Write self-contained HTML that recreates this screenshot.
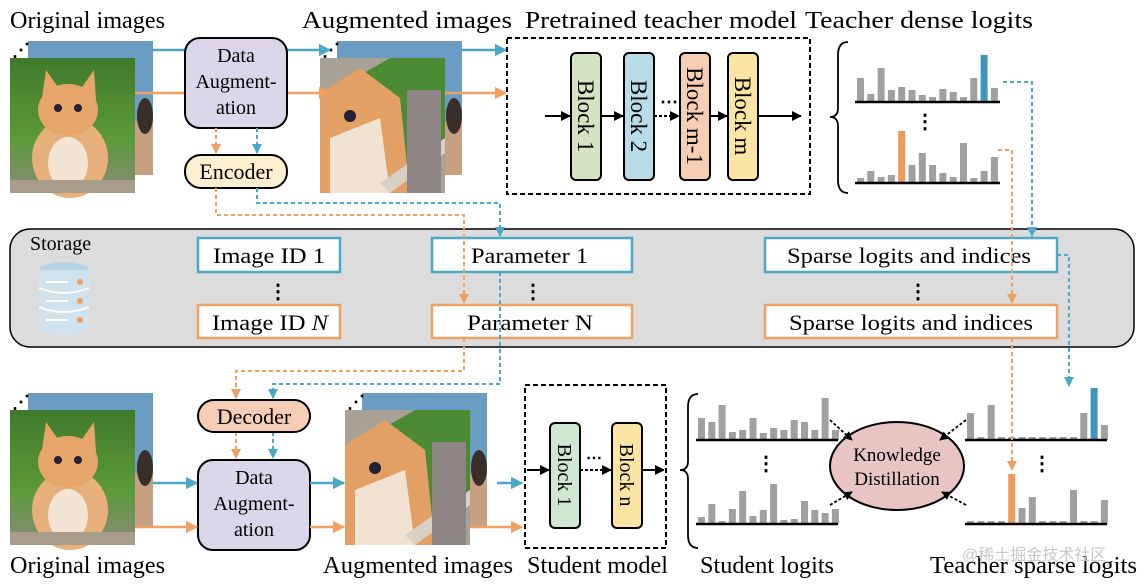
<!DOCTYPE html>
<html><head><meta charset="utf-8"><style>
html,body{margin:0;padding:0;background:#fff;}
svg{display:block;font-family:"Liberation Serif",serif;}
</style></head><body>
<svg width="1144" height="584" viewBox="0 0 1144 584" xmlns="http://www.w3.org/2000/svg">
<defs>
<marker id="ab" viewBox="0 0 10 10" refX="9" refY="5" markerWidth="5" markerHeight="5" orient="auto"><path d="M0,0L10,5L0,10z" fill="#4aa8c8"/></marker>
<marker id="ao" viewBox="0 0 10 10" refX="9" refY="5" markerWidth="5" markerHeight="5" orient="auto"><path d="M0,0L10,5L0,10z" fill="#f0a060"/></marker>
<marker id="ak" viewBox="0 0 10 10" refX="9" refY="5" markerWidth="5" markerHeight="5" orient="auto"><path d="M0,0L10,5L0,10z" fill="#000"/></marker>
<linearGradient id="grass" x1="0" y1="0" x2="0" y2="1"><stop offset="0" stop-color="#3f7a2a"/><stop offset="0.6" stop-color="#5c9a3a"/><stop offset="1" stop-color="#8a8a78"/></linearGradient>
<g id="cat">
<rect x="0" y="0" width="125" height="135" fill="url(#grass)"/>
<ellipse cx="60" cy="100" rx="38" ry="40" fill="#e8b07a"/>
<ellipse cx="58" cy="52" rx="30" ry="26" fill="#e6a66a"/>
<path d="M32,40 L36,12 L50,32z M70,32 L84,12 L86,42z" fill="#e6a66a"/>
<ellipse cx="58" cy="105" rx="20" ry="26" fill="#f4e4d4"/>
<circle cx="48" cy="50" r="4" fill="#223"/><circle cx="68" cy="50" r="4" fill="#223"/>
<rect x="0" y="122" width="125" height="13" fill="#a89c8a"/>
</g>
<g id="back">
<rect x="0" y="0" width="125" height="134" fill="#6b9cc4"/>
<rect x="105" y="80" width="20" height="54" fill="#c6a080"/>
<ellipse cx="117" cy="75" rx="8" ry="18" fill="#3a2e2a"/>
</g>
<g id="aug">
<rect x="0" y="0" width="125" height="135" fill="#a8a296"/>
<path d="M0,40 L70,0 L125,0 L125,90 L60,135 L0,135z" fill="#4d8a34"/>
<path d="M0,35 L40,10 L80,40 L90,135 L0,135z" fill="#e2a064"/>
<path d="M10,80 L60,60 L70,135 L10,135z" fill="#f2e2d2"/>
<circle cx="30" cy="58" r="6" fill="#223"/>
<path d="M60,125 L125,80 L125,95 L70,135z" fill="#d8d0c4"/>
<rect x="87" y="32" width="34" height="103" fill="#8d8684"/>
</g>
<g id="db">
<ellipse cx="26" cy="8" rx="25" ry="8" fill="#b7d4e6"/>
<rect x="1" y="8" width="50" height="56" fill="#cfe2ee"/>
<ellipse cx="26" cy="64" rx="25" ry="8" fill="#cfe2ee"/>
<path d="M1,26 Q26,36 51,26 M1,45 Q26,55 51,45" stroke="#fff" stroke-width="2" fill="none"/>
<circle cx="42" cy="20" r="3" fill="#f0a060"/><circle cx="42" cy="39" r="3" fill="#f0a060"/><circle cx="42" cy="58" r="3" fill="#f0a060"/>
<path d="M8,20h22 M8,39h22 M8,58h22" stroke="#fff" stroke-width="2"/>
</g>
</defs>

<g font-size="24" fill="#000">
<text x="10" y="28" textLength="155" lengthAdjust="spacingAndGlyphs">Original images</text>
<text x="302" y="28" textLength="210" lengthAdjust="spacingAndGlyphs">Augmented images</text>
<text x="525" y="28" textLength="272" lengthAdjust="spacingAndGlyphs">Pretrained teacher model</text>
<text x="805" y="28" textLength="228" lengthAdjust="spacingAndGlyphs">Teacher dense logits</text>
<text x="10" y="573" textLength="155" lengthAdjust="spacingAndGlyphs">Original images</text>
<text x="323" y="573" textLength="190" lengthAdjust="spacingAndGlyphs">Augmented images</text>
<text x="527" y="573" textLength="141" lengthAdjust="spacingAndGlyphs">Student model</text>
<text x="700" y="573" textLength="134" lengthAdjust="spacingAndGlyphs">Student logits</text>
<text x="930" y="573" textLength="207" lengthAdjust="spacingAndGlyphs">Teacher sparse logits</text>
</g>
<text x="962" y="560" font-size="16" fill="#c8c8c8" font-family="'Liberation Sans','Noto Sans CJK SC',sans-serif">@稀土掘金技术社区</text>

<use href="#back" x="28" y="41"/>
<use href="#cat" x="10" y="58"/>
<text x="12" y="56" font-size="18" font-weight="bold">⋰</text>
<use href="#back" x="337" y="41"/>
<use href="#aug" x="320" y="58"/>
<text x="322" y="56" font-size="18" font-weight="bold">⋰</text>

<g stroke-width="2.5" fill="none">
<line x1="153" y1="50" x2="197" y2="50" stroke="#4aa8c8" marker-end="url(#ab)"/>
<line x1="135" y1="93" x2="197" y2="93" stroke="#f0a060" marker-end="url(#ao)"/>
<line x1="287" y1="50" x2="330" y2="50" stroke="#4aa8c8" marker-end="url(#ab)"/>
<line x1="287" y1="93" x2="330" y2="93" stroke="#f0a060" marker-end="url(#ao)"/>
<line x1="462" y1="50" x2="506" y2="50" stroke="#4aa8c8" marker-end="url(#ab)"/>
<line x1="445" y1="93" x2="506" y2="93" stroke="#f0a060" marker-end="url(#ao)"/>
</g>

<rect x="185" y="38" width="102" height="90" rx="15" fill="#dbd6e9" stroke="#000" stroke-width="2"/>
<g font-size="20" text-anchor="middle"><text x="236" y="62">Data</text><text x="236" y="88">Augment-</text><text x="236" y="114">ation</text></g>
<rect x="185" y="155" width="102" height="33" rx="16" fill="#fcefcf" stroke="#000" stroke-width="2"/>
<text x="236" y="179" font-size="22" text-anchor="middle">Encoder</text>
<g stroke-width="2" stroke-dasharray="4,3" fill="none">
<line x1="216" y1="128" x2="216" y2="153" stroke="#f0a060" marker-end="url(#ao)"/>
<line x1="257" y1="128" x2="257" y2="153" stroke="#4aa8c8" marker-end="url(#ab)"/>
</g>

<rect x="507" y="38" width="303" height="156" fill="none" stroke="#000" stroke-width="2" stroke-dasharray="5,3"/>
<rect x="571" y="53" width="30" height="127" rx="5" fill="#d5e3c3" stroke="#000" stroke-width="2"/>
<rect x="624" y="53" width="30" height="127" rx="5" fill="#b9dde8" stroke="#000" stroke-width="2"/>
<rect x="680" y="53" width="30" height="127" rx="5" fill="#f6cdb5" stroke="#000" stroke-width="2"/>
<rect x="728" y="53" width="30" height="127" rx="5" fill="#fbe5a4" stroke="#000" stroke-width="2"/>
<g font-size="23" text-anchor="middle">
<text transform="translate(586,116) rotate(90)" dy="8">Block 1</text>
<text transform="translate(639,116) rotate(90)" dy="8">Block 2</text>
<text transform="translate(695,116) rotate(90)" dy="8">Block m-1</text>
<text transform="translate(743,116) rotate(90)" dy="8">Block m</text>
</g>
<g stroke="#000" stroke-width="2" fill="none">
<line x1="545" y1="116" x2="570" y2="116" marker-end="url(#ak)"/>
<line x1="601" y1="116" x2="623" y2="116" marker-end="url(#ak)"/>
<line x1="654" y1="116" x2="679" y2="116" stroke-dasharray="3,2" marker-end="url(#ak)"/>
<line x1="710" y1="116" x2="727" y2="116" marker-end="url(#ak)"/>
<line x1="758" y1="116" x2="801" y2="116" marker-end="url(#ak)"/>
</g>
<text x="660" y="108" font-size="18" font-weight="bold">⋯</text>

<path d="M848,42 Q838,42 838,55 L838,108 Q838,117 830,117 Q838,117 838,126 L838,180 Q838,193 848,193" stroke="#000" stroke-width="1.8" fill="none"/>
<path d="M698,394 Q688,394 688,407 L688,461 Q688,470 680,470 Q688,470 688,479 L688,535 Q688,548 698,548" stroke="#000" stroke-width="1.8" fill="none"/>

<g fill="#a0a0a0">
<g transform="translate(857,102) scale(1,-1)">
<rect x="0" width="7" height="24"/><rect x="10.3" width="7" height="8"/><rect x="20.6" width="7" height="34"/><rect x="30.9" width="7" height="12"/><rect x="41.2" width="7" height="15"/><rect x="51.5" width="7" height="12"/><rect x="61.8" width="7" height="7"/><rect x="72.1" width="7" height="5"/><rect x="82.4" width="7" height="13"/><rect x="92.7" width="7" height="10"/><rect x="103" width="7" height="5"/><rect x="113.3" width="7" height="24"/><rect x="123.6" width="7" height="47" fill="#3f96bd"/><rect x="133.9" width="7" height="14"/>
</g>
<g transform="translate(857,183) scale(1,-1)">
<rect x="0" width="7" height="5"/><rect x="10.3" width="7" height="12"/><rect x="20.6" width="7" height="6"/><rect x="30.9" width="7" height="8"/><rect x="41.2" width="7" height="52" fill="#ee9a58"/><rect x="51.5" width="7" height="18"/><rect x="61.8" width="7" height="30"/><rect x="72.1" width="7" height="18"/><rect x="82.4" width="7" height="10"/><rect x="92.7" width="7" height="6"/><rect x="103" width="7" height="40"/><rect x="113.3" width="7" height="5"/><rect x="123.6" width="7" height="12"/><rect x="133.9" width="7" height="26"/>
</g>
<g transform="translate(698,440) scale(1,-1)">
<rect x="0" width="7" height="22"/><rect x="10.3" width="7" height="18"/><rect x="20.6" width="7" height="35"/><rect x="30.9" width="7" height="8"/><rect x="41.2" width="7" height="10"/><rect x="51.5" width="7" height="22"/><rect x="61.8" width="7" height="7"/><rect x="72.1" width="7" height="12"/><rect x="82.4" width="7" height="10"/><rect x="92.7" width="7" height="20"/><rect x="103" width="7" height="18"/><rect x="113.3" width="7" height="10"/><rect x="123.6" width="7" height="42"/><rect x="133.9" width="7" height="10"/>
</g>
<g transform="translate(698,524) scale(1,-1)">
<rect x="0" width="7" height="7"/><rect x="10.3" width="7" height="20"/><rect x="20.6" width="7" height="3"/><rect x="30.9" width="7" height="15"/><rect x="41.2" width="7" height="33"/><rect x="51.5" width="7" height="8"/><rect x="61.8" width="7" height="14"/><rect x="72.1" width="7" height="40"/><rect x="82.4" width="7" height="4"/><rect x="92.7" width="7" height="5"/><rect x="103" width="7" height="23"/><rect x="113.3" width="7" height="14"/><rect x="123.6" width="7" height="11"/><rect x="133.9" width="7" height="15"/>
</g>
<g transform="translate(967,440) scale(1,-1)">
<rect x="0" width="7" height="27"/><rect x="10.3" width="7" height="3"/><rect x="20.6" width="7" height="35"/><rect x="30.9" width="7" height="3"/><rect x="41.2" width="7" height="3"/><rect x="51.5" width="7" height="3"/><rect x="61.8" width="7" height="3"/><rect x="72.1" width="7" height="3"/><rect x="82.4" width="7" height="3"/><rect x="92.7" width="7" height="3"/><rect x="103" width="7" height="3"/><rect x="113.3" width="7" height="27"/><rect x="123.6" width="7" height="52" fill="#3f96bd"/><rect x="133.9" width="7" height="15"/>
</g>
<g transform="translate(967,524) scale(1,-1)">
<rect x="0" width="7" height="3"/><rect x="10.3" width="7" height="3"/><rect x="20.6" width="7" height="3"/><rect x="30.9" width="7" height="3"/><rect x="41.2" width="7" height="50" fill="#ee9a58"/><rect x="51.5" width="7" height="16"/><rect x="61.8" width="7" height="27"/><rect x="72.1" width="7" height="3"/><rect x="82.4" width="7" height="3"/><rect x="92.7" width="7" height="3"/><rect x="103" width="7" height="34"/><rect x="113.3" width="7" height="3"/><rect x="123.6" width="7" height="3"/><rect x="133.9" width="7" height="24"/>
</g>
</g>
<g stroke="#000" stroke-width="2.5">
<line x1="855" y1="102" x2="1000" y2="102"/><line x1="855" y1="183" x2="1000" y2="183"/>
<line x1="696" y1="440" x2="838" y2="440"/><line x1="696" y1="524" x2="838" y2="524"/>
<line x1="965" y1="440" x2="1107" y2="440"/><line x1="965" y1="524" x2="1107" y2="524"/>
</g>
<g font-size="20" font-weight="bold" text-anchor="middle">
<text x="925" y="128">⋮</text><text x="766" y="470">⋮</text><text x="1042" y="470">⋮</text>
</g>

<rect x="10" y="229" width="1124" height="118" rx="20" fill="#dcdcdc" stroke="#000" stroke-width="1.5"/>
<text x="30" y="250" font-size="20">Storage</text>
<use href="#db" x="38" y="262"/>
<g fill="#fff" stroke-width="2.5">
<rect x="198" y="238" width="142" height="34" stroke="#4aa8c8"/>
<rect x="198" y="305" width="142" height="33" stroke="#f0a060"/>
<rect x="432" y="238" width="200" height="34" stroke="#4aa8c8"/>
<rect x="432" y="305" width="200" height="33" stroke="#f0a060"/>
<rect x="765" y="238" width="292" height="34" stroke="#4aa8c8"/>
<rect x="765" y="305" width="292" height="33" stroke="#f0a060"/>
</g>
<g font-size="22">
<text x="213" y="263" textLength="112" lengthAdjust="spacingAndGlyphs">Image ID 1</text>
<text x="212" y="330" textLength="116" lengthAdjust="spacingAndGlyphs">Image ID <tspan font-style="italic">N</tspan></text>
<text x="471" y="263" textLength="117" lengthAdjust="spacingAndGlyphs">Parameter 1</text>
<text x="467" y="330" textLength="126" lengthAdjust="spacingAndGlyphs">Parameter N</text>
<text x="787" y="263" textLength="244" lengthAdjust="spacingAndGlyphs">Sparse logits and indices</text>
<text x="789" y="330" textLength="244" lengthAdjust="spacingAndGlyphs">Sparse logits and indices</text>
</g>
<g font-size="20" font-weight="bold" text-anchor="middle"><text x="278" y="298">⋮</text><text x="533" y="298">⋮</text><text x="918" y="298">⋮</text></g>

<g stroke-width="2" stroke-dasharray="4,3" fill="none">
<polyline points="216,188 216,215 464,215 464,303" stroke="#f0a060" marker-end="url(#ao)"/>
<polyline points="257,188 257,203 500,203 500,236" stroke="#4aa8c8" marker-end="url(#ab)"/>
<polyline points="1003,82 1032,82 1032,236" stroke="#4aa8c8" marker-end="url(#ab)"/>
<polyline points="998,150 1012,150 1012,303" stroke="#f0a060" marker-end="url(#ao)"/>
<polyline points="500,272 500,384 273,384 273,398" stroke="#4aa8c8" marker-end="url(#ab)"/>
<polyline points="464,338 464,371 236,371 236,398" stroke="#f0a060" marker-end="url(#ao)"/>
<polyline points="1057,255 1069,255 1069,386" stroke="#4aa8c8" marker-end="url(#ab)"/>
<polyline points="1012,338 1012,470" stroke="#f0a060" marker-end="url(#ao)"/>
<line x1="236" y1="432" x2="236" y2="458" stroke="#f0a060" marker-end="url(#ao)"/>
<line x1="273" y1="432" x2="273" y2="458" stroke="#4aa8c8" marker-end="url(#ab)"/>
</g>

<use href="#back" x="28" y="393"/>
<use href="#cat" x="10" y="410"/>
<text x="12" y="408" font-size="18" font-weight="bold">⋰</text>
<use href="#back" x="362" y="393"/>
<use href="#aug" x="345" y="410"/>
<text x="347" y="408" font-size="18" font-weight="bold">⋰</text>

<rect x="198" y="400" width="112" height="32" rx="16" fill="#f6cdb5" stroke="#000" stroke-width="2"/>
<text x="254" y="424" font-size="22" text-anchor="middle">Decoder</text>
<rect x="198" y="460" width="112" height="90" rx="15" fill="#dbd6e9" stroke="#000" stroke-width="2"/>
<g font-size="20" text-anchor="middle"><text x="254" y="484">Data</text><text x="254" y="510">Augment-</text><text x="254" y="536">ation</text></g>

<g stroke-width="2.5" fill="none">
<line x1="153" y1="483" x2="197" y2="483" stroke="#4aa8c8" marker-end="url(#ab)"/>
<line x1="135" y1="527" x2="197" y2="527" stroke="#f0a060" marker-end="url(#ao)"/>
<line x1="310" y1="483" x2="344" y2="483" stroke="#4aa8c8" marker-end="url(#ab)"/>
<line x1="310" y1="527" x2="344" y2="527" stroke="#f0a060" marker-end="url(#ao)"/>
<line x1="497" y1="483" x2="522" y2="483" stroke="#4aa8c8" marker-end="url(#ab)"/>
<line x1="470" y1="527" x2="522" y2="527" stroke="#f0a060" marker-end="url(#ao)"/>
</g>

<rect x="525" y="385" width="141" height="163" fill="none" stroke="#000" stroke-width="2" stroke-dasharray="5,3"/>
<rect x="550" y="423" width="30" height="105" rx="5" fill="#cfe6d0" stroke="#000" stroke-width="2"/>
<rect x="612" y="423" width="30" height="105" rx="5" fill="#fbe5a4" stroke="#000" stroke-width="2"/>
<g font-size="20" text-anchor="middle">
<text transform="translate(565,475) rotate(90)" dy="7">Block 1</text>
<text transform="translate(627,475) rotate(90)" dy="7">Block n</text>
</g>
<g stroke="#000" stroke-width="2" fill="none">
<line x1="527" y1="470" x2="549" y2="470" marker-end="url(#ak)"/>
<line x1="580" y1="470" x2="611" y2="470" stroke-dasharray="3,2" marker-end="url(#ak)"/>
<line x1="642" y1="470" x2="664" y2="470" marker-end="url(#ak)"/>
</g>
<text x="586" y="463" font-size="16" font-weight="bold">⋯</text>

<ellipse cx="897" cy="466" rx="67" ry="44" fill="#e8c4c2" stroke="#000" stroke-width="2"/>
<g font-size="19" text-anchor="middle"><text x="897" y="461">Knowledge</text><text x="897" y="485">Distillation</text></g>
<g stroke="#000" stroke-width="1.8" stroke-dasharray="3,2" fill="none">
<line x1="830" y1="420" x2="852" y2="440" marker-end="url(#ak)"/>
<line x1="830" y1="505" x2="852" y2="492" marker-end="url(#ak)"/>
<line x1="966" y1="420" x2="940" y2="440" marker-end="url(#ak)"/>
<line x1="966" y1="505" x2="942" y2="492" marker-end="url(#ak)"/>
</g>
</svg>
</body></html>
